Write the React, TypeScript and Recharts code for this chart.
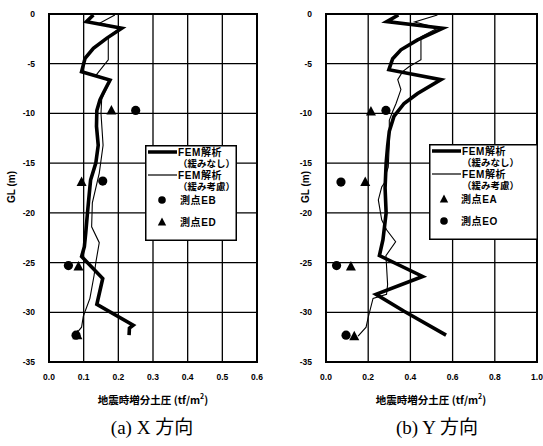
import React from "react";
import {
  ScatterChart,
  Scatter,
  XAxis,
  YAxis,
  CartesianGrid,
  ReferenceArea,
} from "recharts";

// depths (GL, m) and increments of seismic earth pressure (tf/m2)
const depthTicks = [0, -5, -10, -15, -20, -25, -30, -35];
const xTicksA = [0, 0.1, 0.2, 0.3, 0.4, 0.5, 0.6];
const xTicksB = [0, 0.2, 0.4, 0.6, 0.8, 1.0];

// (a) X direction
const aThickDepth = [-0.1, -0.77, -1.44, -2.45, -3.45, -4.46, -5.8, -6.64, -8, -8.65, -9.7, -11.3, -13.2, -15, -16.7, -17.4, -20, -22, -23.4, -24.4, -26.6, -29.2, -31.3, -31.6, -32.3];
const aThickValue = [0.128, 0.108, 0.21, 0.166, 0.128, 0.104, 0.094, 0.176, 0.156, 0.147, 0.138, 0.137, 0.142, 0.135, 0.12, 0.118, 0.111, 0.106, 0.102, 0.094, 0.155, 0.138, 0.243, 0.232, 0.231];
const aThinDepth = [-0.1, -0.9, -1.4, -2.3, -4.6, -6.1, -6.8, -8.5, -10, -13.2, -16, -19, -21.4, -23, -25, -26.3, -28.6, -30.4, -31.5, -32.3];
const aThinValue = [0.19, 0.147, 0.205, 0.171, 0.171, 0.137, 0.176, 0.152, 0.15, 0.156, 0.145, 0.125, 0.123, 0.145, 0.135, 0.13, 0.118, 0.099, 0.094, 0.075];
const aEBDepth = [-9.7, -16.8, -25.3, -32.3];
const aEBValue = [0.25, 0.155, 0.056, 0.078];
const aEDDepth = [-9.7, -16.9, -25.4, -32.3];
const aEDValue = [0.18, 0.094, 0.085, 0.082];

// (b) Y direction
const bThickDepth = [-0.1, -0.77, -1.44, -2.6, -3.6, -4.5, -5.6, -6.6, -8, -9, -10.3, -11.8, -13.3, -15, -17.5, -20, -22.7, -24.3, -26.4, -28.2, -29.9, -32.3];
const bThickValue = [0.343, 0.288, 0.553, 0.434, 0.355, 0.316, 0.298, 0.545, 0.434, 0.37, 0.322, 0.3, 0.292, 0.285, 0.28, 0.285, 0.27, 0.253, 0.458, 0.237, 0.37, 0.569];
const bThinDepth = [-0.1, -0.8, -1.4, -2.3, -4.6, -5.3, -5.8, -6.6, -7.6, -9, -9.8, -10.7, -13, -15.4, -15.9, -16.9, -17.4, -18.7, -20.7, -21.7, -22.9, -24.3, -27.2, -28.2, -28.6, -30.5, -31.5, -32.4];
const bThinValue = [0.528, 0.42, 0.53, 0.45, 0.45, 0.393, 0.363, 0.34, 0.355, 0.332, 0.316, 0.3, 0.3, 0.295, 0.287, 0.28, 0.264, 0.248, 0.264, 0.287, 0.33, 0.284, 0.292, 0.287, 0.223, 0.2, 0.19, 0.152];
const bEADepth = [-9.8, -16.9, -25.4, -32.4];
const bEAValue = [0.213, 0.186, 0.118, 0.134];
const bEODepth = [-9.7, -16.9, -25.3, -32.3];
const bEOValue = [0.284, 0.071, 0.05, 0.095];

const zip = (d: number[], v: number[]) => d.map((dd, i) => ({ d: dd, v: v[i] }));

const SANS = "'Liberation Sans', Arial, sans-serif";
const CJK = "'Noto Sans CJK JP', 'Liberation Sans', sans-serif";
const LEG = "'Liberation Sans', 'Noto Sans CJK JP', sans-serif";

const noDot = () => <g />;
const dotShape = (p: any) => <circle cx={p.cx} cy={p.cy} r={4.6} fill="#000" />;
const triShape = (p: any) => (
  <polygon
    points={`${p.cx},${p.cy - 5.5} ${p.cx - 5},${p.cy + 4} ${p.cx + 5},${p.cy + 4}`}
    fill="#000"
  />
);

type LegendItem = { kind: "thick" | "thin" | "dot" | "tri"; label: string; sub?: string };

const LegendBox = ({ left, top, width, height, items, symX, textX }: {
  left: number; top: number; width: number; height: number;
  items: LegendItem[]; symX: number; textX: number;
}) => {
  const rows = [7, 30, 55, 77];
  return (
    <svg
      width={width}
      height={height}
      style={{ position: "absolute", left, top, background: "#fff", overflow: "visible" }}
    >
      <rect x={0.75} y={0.75} width={width - 1.5} height={height - 1.5} fill="#fff" stroke="#000" strokeWidth={1.5} />
      {items.map((it, i) => {
        const y = rows[i];
        const isLine = it.kind === "thick" || it.kind === "thin";
        const tx = isLine ? 33 : textX;
        return (
          <g key={i}>
            {it.kind === "thick" && <line x1={3} x2={32} y1={y} y2={y} stroke="#000" strokeWidth={3.5} />}
            {it.kind === "thin" && <line x1={3} x2={32} y1={y} y2={y} stroke="#000" strokeWidth={1.2} />}
            {it.kind === "dot" && <circle cx={symX} cy={y} r={3.8} fill="#000" />}
            {it.kind === "tri" && (
              <polygon points={`${symX},${y - 4.5} ${symX - 4.2},${y + 3.5} ${symX + 4.2},${y + 3.5}`} fill="#000" />
            )}
            <text x={tx} y={y + 3.6} fontSize={10} fontWeight="bold" fontFamily={LEG} letterSpacing={0.6}>
              {it.label}
            </text>
            {it.sub && (
              <text x={tx} y={y + 15.4} fontSize={9.5} fontWeight="bold" fontFamily={LEG}>
                {it.sub}
              </text>
            )}
          </g>
        );
      })}
    </svg>
  );
};

const Panel = ({ left, width, marginRight, xMax, xTicks, thick, thin, dots, tris, legend, caption, glX, titleX, captionX }: any) => {
  const tickStyle = { fontSize: 8.5, fontWeight: "bold", fill: "#000", fontFamily: SANS };
  return (
    <div style={{ position: "absolute", left, top: 0, width, height: 446 }}>
      <ScatterChart width={width} height={400} margin={{ top: 14, right: marginRight, bottom: 0, left: 0 }}>
        <CartesianGrid stroke="#000" strokeWidth={1.3} />
        <XAxis
          type="number"
          dataKey="v"
          domain={[0, xMax]}
          ticks={xTicks}
          tickFormatter={(v: number) => v.toFixed(1)}
          allowDataOverflow
          height={38}
          tick={tickStyle}
          tickLine={false}
          tickSize={0}
          tickMargin={12}
          axisLine={{ stroke: "#000", strokeWidth: 2 }}
        />
        <YAxis
          type="number"
          dataKey="d"
          domain={[-35, 0]}
          ticks={depthTicks}
          allowDataOverflow
          width={49}
          tick={tickStyle}
          tickLine={false}
          tickSize={0}
          tickMargin={14}
          axisLine={{ stroke: "#000", strokeWidth: 2 }}
        />
        <ReferenceArea x1={0} x2={xMax} y1={-35} y2={0} fill="none" stroke="#000" strokeWidth={2} />
        <Scatter data={thin} shape={noDot} line={{ stroke: "#000", strokeWidth: 1.1 }} isAnimationActive={false} />
        <Scatter
          data={thick}
          shape={noDot}
          line={{ stroke: "#000", strokeWidth: 3.6, strokeLinejoin: "miter" }}
          isAnimationActive={false}
        />
        <Scatter data={tris} shape={triShape} isAnimationActive={false} />
        <Scatter data={dots} shape={dotShape} isAnimationActive={false} />
      </ScatterChart>
      {legend}
      <div
        style={{
          position: "absolute", left: glX - 30, top: 187 - 7, width: 60, height: 14, lineHeight: "14px",
          textAlign: "center", transform: "rotate(-90deg)", fontFamily: SANS, fontWeight: "bold", fontSize: 10,
        }}
      >
        GL (m)
      </div>
      <div
        style={{
          position: "absolute", left: titleX - 80, top: 389, width: 160, textAlign: "center",
          fontFamily: CJK, fontWeight: "bold", fontSize: 10.5, lineHeight: "14px",
        }}
      >
        地震時増分土圧 (tf/m<sup style={{ fontSize: 7 }}>2</sup>)
      </div>
      <div
        style={{
          position: "absolute", left: captionX - 80, top: 417, width: 160, textAlign: "center",
          fontFamily: "'Liberation Serif', 'Noto Sans CJK JP', serif", fontSize: 19, lineHeight: "22px",
        }}
      >
        {caption}
      </div>
    </div>
  );
};

export default function App() {
  return (
    <div style={{ position: "absolute", left: 0, top: 0, width: 543, height: 446, background: "#fff" }}>
      <Panel
        left={0}
        width={265}
        marginRight={8}
        xMax={0.6}
        xTicks={xTicksA}
        thick={zip(aThickDepth, aThickValue)}
        thin={zip(aThinDepth, aThinValue)}
        dots={zip(aEBDepth, aEBValue)}
        tris={zip(aEDDepth, aEDValue)}
        glX={12}
        titleX={153}
        captionX={152}
        caption="(a) X 方向"
        legend={
          <LegendBox
            left={145}
            top={145}
            width={92}
            height={96}
            symX={17}
            textX={35}
            items={[
              { kind: "thick", label: "FEM解析", sub: "（緩みなし）" },
              { kind: "thin", label: "FEM解析", sub: "（緩み考慮）" },
              { kind: "dot", label: "測点EB" },
              { kind: "tri", label: "測点ED" },
            ]}
          />
        }
      />
      <Panel
        left={277}
        width={266}
        marginRight={6}
        xMax={1.0}
        xTicks={xTicksB}
        thick={zip(bThickDepth, bThickValue)}
        thin={zip(bThinDepth, bThinValue)}
        dots={zip(bEODepth, bEOValue)}
        tris={zip(bEADepth, bEAValue)}
        glX={29}
        titleX={154}
        captionX={160}
        caption="(b) Y 方向"
        legend={
          <LegendBox
            left={152}
            top={144}
            width={109}
            height={96}
            symX={15}
            textX={32}
            items={[
              { kind: "thick", label: "FEM解析", sub: "（緩みなし）" },
              { kind: "thin", label: "FEM解析", sub: "（緩み考慮）" },
              { kind: "tri", label: "測点EA" },
              { kind: "dot", label: "測点EO" },
            ]}
          />
        }
      />
    </div>
  );
}
